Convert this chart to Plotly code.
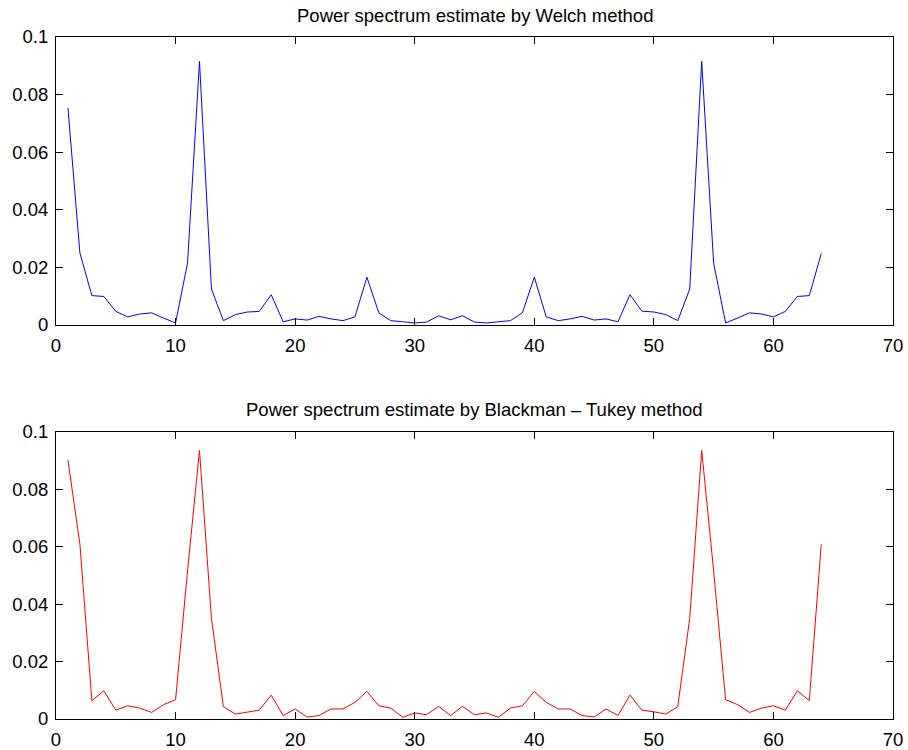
import plotly.graph_objects as go

freq_index = list(range(1, 65))

welch_psd = [
    0.0753, 0.0249, 0.0101, 0.0098, 0.0046, 0.0027, 0.0037, 0.0041, 0.0023, 0.0006,
    0.0214, 0.0915, 0.0124, 0.0014, 0.0035, 0.0044, 0.0046, 0.0104, 0.0010, 0.0020,
    0.0016, 0.0029, 0.0020, 0.0014, 0.0027, 0.0165, 0.0041, 0.0014, 0.0010, 0.0006,
    0.0009, 0.0031, 0.0017, 0.0031, 0.0009, 0.0006, 0.0010, 0.0014, 0.0041, 0.0165,
    0.0027, 0.0014, 0.0020, 0.0029, 0.0016, 0.0020, 0.0010, 0.0104, 0.0047, 0.0044,
    0.0035, 0.0014, 0.0124, 0.0915, 0.0214, 0.0006, 0.0023, 0.0041, 0.0037, 0.0027,
    0.0046, 0.0098, 0.0101, 0.0247,
]

bt_psd = [
    0.0901, 0.0608, 0.0064, 0.0098, 0.0031, 0.0046, 0.0038, 0.0023, 0.0050, 0.0067,
    0.0515, 0.0935, 0.0350, 0.0043, 0.0017, 0.0025, 0.0031, 0.0083, 0.0012, 0.0035,
    0.0007, 0.0012, 0.0035, 0.0035, 0.0058, 0.0096, 0.0046, 0.0038, 0.0006, 0.0021,
    0.0015, 0.0044, 0.0012, 0.0044, 0.0015, 0.0021, 0.0006, 0.0038, 0.0046, 0.0096,
    0.0058, 0.0035, 0.0035, 0.0012, 0.0007, 0.0035, 0.0012, 0.0083, 0.0031, 0.0025,
    0.0017, 0.0043, 0.0350, 0.0935, 0.0515, 0.0067, 0.0050, 0.0023, 0.0038, 0.0046,
    0.0031, 0.0098, 0.0064, 0.0608,
]

titles = ["Power spectrum estimate by Welch method",
          "Power spectrum estimate by Blackman – Tukey method"]

FONT = "Liberation Sans, Arial, Helvetica, sans-serif"
FS = 18.5

fig = go.Figure()
fig.add_trace(go.Scatter(x=freq_index, y=welch_psd, mode="lines",
                         line=dict(color="#0000ff", width=1), xaxis="x", yaxis="y",
                         showlegend=False))
fig.add_trace(go.Scatter(x=freq_index, y=bt_psd, mode="lines",
                         line=dict(color="#ff0000", width=1), xaxis="x2", yaxis="y2",
                         showlegend=False))

axis_common = dict(showgrid=False, zeroline=False, showline=True, linecolor="black",
                   linewidth=1, mirror="ticks", ticks="inside", ticklen=7,
                   tickcolor="black", tickwidth=1, automargin=False,
                   tickfont=dict(family=FONT, size=FS, color="black"))

xcommon = dict(range=[0, 70], dtick=10, tick0=0, ticklabelstandoff=4, **axis_common)
ycommon = dict(range=[0, 0.1], dtick=0.02, tick0=0, ticklabelstandoff=3, **axis_common)

fig.update_layout(
    width=908, height=750,
    margin=dict(l=56, r=15, t=37, b=31),
    paper_bgcolor="white", plot_bgcolor="white",
    xaxis=dict(domain=[0, 1], anchor="y", **xcommon),
    yaxis=dict(domain=[0.5782, 1.0], anchor="x", **ycommon),
    xaxis2=dict(domain=[0, 1], anchor="y2", **xcommon),
    yaxis2=dict(domain=[0, 0.4213], anchor="x2", **ycommon),
    annotations=[
        dict(text=titles[0], x=0.5, y=1.0322, xref="paper", yref="paper",
             xanchor="center", yanchor="middle", showarrow=False,
             font=dict(family=FONT, size=FS, color="black")),
        dict(text=titles[1], x=0.5, y=0.4539, xref="paper", yref="paper",
             xanchor="center", yanchor="middle", showarrow=False,
             font=dict(family=FONT, size=FS, color="black")),
    ],
)

fig.write_html("out.html")
